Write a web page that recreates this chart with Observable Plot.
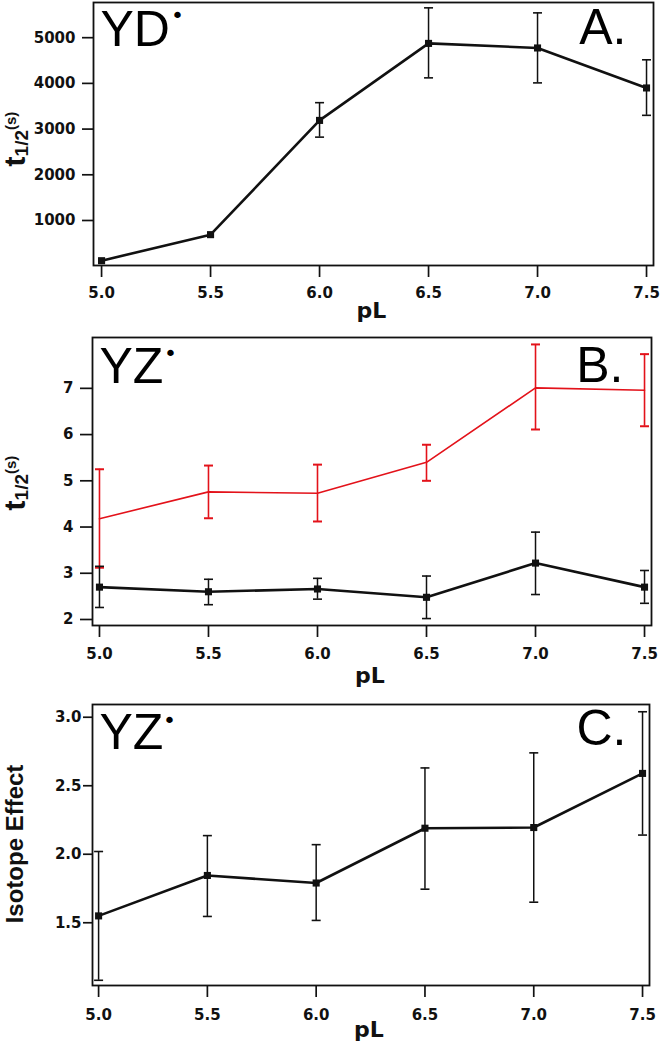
<!DOCTYPE html>
<html><head><meta charset="utf-8">
<script src="https://cdn.jsdelivr.net/npm/d3@7"></script>
<script src="https://cdn.jsdelivr.net/npm/@observablehq/plot@0.6"></script>
<style>
body{margin:0;background:#fff;}
#chart{width:666px;height:1050px;background:#fff;}
#chart svg{display:block;overflow:visible;}
</style></head><body><div id="chart"></div>
<script>
// ---- data ----
const pL = [5.0, 5.5, 6.0, 6.5, 7.0, 7.5];
// Panel A (YD·), t1/2 in s
const aT  = [120, 690, 3190, 4875, 4775, 3900];
const aLo = [null, null, 2824, 4121, 4011, 3301];
const aHi = [null, null, 3578, 5653, 5543, 4516];
// Panel B (YZ·) black series
const bT  = [2.70, 2.60, 2.66, 2.48, 3.22, 2.70];
const bLo = [2.26, 2.32, 2.44, 2.02, 2.54, 2.35];
const bHi = [3.15, 2.87, 2.89, 2.94, 3.89, 3.06];
// Panel B red series
const rT  = [4.18, 4.76, 4.73, 5.40, 7.01, 6.96];
const rLo = [3.12, 4.19, 4.12, 5.00, 6.11, 6.18];
const rHi = [5.25, 5.33, 5.35, 5.78, 7.95, 7.74];
// Panel C isotope effect
const cIE = [1.55, 1.845, 1.79, 2.19, 2.195, 2.59];
const cLo = [1.08, 1.546, 1.517, 1.745, 1.65, 2.14];
const cHi = [2.02, 2.136, 2.07, 2.63, 2.74, 3.04];
// tick labels
const aTicks = [1000, 2000, 3000, 4000, 5000];
const bTicks = [2, 3, 4, 5, 6, 7];
const cTicks = [1.5, 2.0, 2.5, 3.0];

// ---- helpers ----
const rows = (y, lo, hi) => pL.map((x, i) => ({x, y: y[i], lo: lo[i], hi: hi[i]}));
const cap = {draw(ctx) { ctx.moveTo(-4.5, 0); ctx.lineTo(4.5, 0); }};
const RED = "#e3121a";
const INK = "#111";

function errorMarks(data, color, sw, capW) {
  const d = data.filter(r => r.lo != null);
  return [
    Plot.ruleX(d, {x: "x", y1: "lo", y2: "hi", stroke: color, strokeWidth: sw}),
    Plot.dot(d, {x: "x", y: "lo", symbol: cap, stroke: color, strokeWidth: capW, fill: "none"}),
    Plot.dot(d, {x: "x", y: "hi", symbol: cap, stroke: color, strokeWidth: capW, fill: "none"})
  ];
}
function blackSeries(data) {
  return [
    ...errorMarks(data, INK, 1.5, 1.6),
    Plot.line(data, {x: "x", y: "y", stroke: INK, strokeWidth: 2.6}),
    Plot.dot(data, {x: "x", y: "y", symbol: "square", r: 4, fill: INK, stroke: "none"})
  ];
}

function makePanel(cfg) {
  const svg = Plot.plot({
    width: 666, height: cfg.height,
    marginTop: cfg.mt, marginBottom: cfg.mb, marginLeft: cfg.ml, marginRight: cfg.mr,
    style: {fontFamily: "'DejaVu Sans', sans-serif", fontSize: "15px", fontWeight: "bold", color: INK, background: "#fff", overflow: "visible"},
    x: {domain: cfg.xdom},
    y: {domain: cfg.ydom},
    marks: [
      Plot.axisX({ticks: pL, tickFormat: d3.format(".1f"), tickSize: 12, tickPadding: cfg.xpad, strokeWidth: 1.7, label: null, fontSize: 15}),
      Plot.axisY({ticks: cfg.yticks, tickFormat: cfg.yfmt, tickSize: cfg.ytsize, tickPadding: cfg.ytpad, strokeWidth: 1.7, label: null, fontSize: 15}),
      Plot.frame({stroke: INK, strokeWidth: 1.8}),
      ...cfg.marks,
      Plot.text(["pL"], {frameAnchor: "bottom", dx: -2, dy: cfg.pLdy, text: d => d, fontSize: 22, fontWeight: "bold", lineAnchor: "bottom", fill: INK}),
      Plot.text([cfg.name], {frameAnchor: "top-left", dx: 7, dy: cfg.nameDy, text: d => d, fontSize: 50, fontWeight: "normal", fontFamily: "'Liberation Sans', Arial, sans-serif", lineAnchor: "bottom", fill: "#000"}),
      Plot.text(["•"], {frameAnchor: "top-left", textAnchor: "middle", dx: cfg.dotDx, dy: cfg.dotDy, text: d => d, fontSize: 22, fontWeight: "normal", fontFamily: "'DejaVu Sans', sans-serif", lineAnchor: "middle", fill: "#000"}),
      Plot.text([cfg.letter], {frameAnchor: "top-right", textAnchor: "end", dx: cfg.letterDx, dy: cfg.letterDy, text: d => d, fontSize: 50, fontWeight: "normal", fontFamily: "'Liberation Sans', Arial, sans-serif", lineAnchor: "bottom", fill: "#000"})
    ]
  });
  // y-axis label with real sub/superscript text
  const t = d3.select(svg).append("text")
    .attr("transform", `translate(${cfg.ylx},${cfg.yly}) rotate(-90)`)
    .attr("text-anchor", "middle")
    .attr("fill", INK)
    .style("font-family", "'Liberation Sans', Arial, sans-serif")
    .style("font-weight", "bold");
  if (cfg.ylabel === "t") {
    t.append("tspan").style("font-size", "30px").text("t");
    t.append("tspan").style("font-size", "19px").attr("dy", 3).text("1/2");
    t.append("tspan").style("font-size", "15px").attr("dy", -12).text("(s)");
  } else {
    t.append("tspan").style("font-size", "24px").text(cfg.ylabel);
  }
  document.getElementById("chart").appendChild(svg);
}

makePanel({
  height: 330, mt: 2, mb: 65, ml: 93, mr: 13,
  xdom: [4.963, 7.532], ydom: [15, 5770],
  yticks: aTicks, yfmt: d3.format("d"), ytsize: 11, ytpad: 7, xpad: 10,
  marks: blackSeries(rows(aT, aLo, aHi)),
  pLdy: 52, name: "YD", nameDy: 43, dotDx: 84, dotDy: 13, letter: "A.", letterDx: -27, letterDy: 41,
  ylabel: "t", ylx: 25, yly: 139
});

makePanel({
  height: 370, mt: 7, mb: 75, ml: 92, mr: 15,
  xdom: [4.968, 7.532], ydom: [1.87, 8.1],
  yticks: bTicks, yfmt: d3.format("d"), ytsize: 12, ytpad: 7, xpad: 11,
  marks: [
    ...errorMarks(rows(rT, rLo, rHi), RED, 1.6, 2),
    Plot.line(rows(rT, rLo, rHi), {x: "x", y: "y", stroke: RED, strokeWidth: 1.6}),
    ...blackSeries(rows(bT, bLo, bHi))
  ],
  pLdy: 57, name: "YZ", nameDy: 45, dotDx: 78, dotDy: 16, letter: "B.", letterDx: -28, letterDy: 44,
  ylabel: "t", ylx: 25, yly: 153
});

makePanel({
  height: 350, mt: 4, mb: 65, ml: 92, mr: 17,
  xdom: [4.972, 7.532], ydom: [1.042, 3.093],
  yticks: cTicks, yfmt: d3.format(".1f"), ytsize: 9, ytpad: 2, xpad: 12,
  marks: blackSeries(rows(cIE, cLo, cHi)),
  pLdy: 51, name: "YZ", nameDy: 44, dotDx: 77, dotDy: 16, letter: "C.", letterDx: -23, letterDy: 40,
  ylabel: "Isotope Effect", ylx: 23, yly: 144
});
</script>
</body></html>
